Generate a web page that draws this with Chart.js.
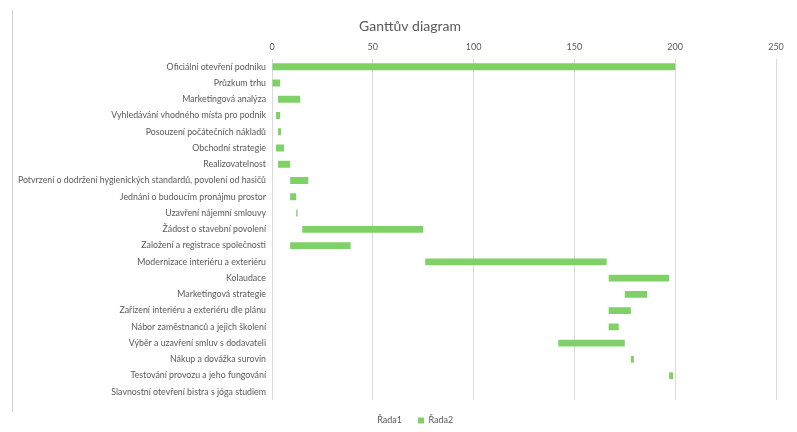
<!DOCTYPE html>
<html>
<head>
<meta charset="utf-8">
<script src="https://cdn.jsdelivr.net/npm/chart.js@4/dist/chart.umd.min.js"></script>
<style>
  html, body { margin: 0; padding: 0; background: #fff; }
  #wrap { width: 797px; height: 432px; position: relative; }
</style>
</head>
<body>
<div id="wrap"><canvas id="c" width="797" height="432"></canvas></div>
<script>
// Project tasks, top to bottom
const tasks = [
  "Oficiální otevření podniku",
  "Průzkum trhu",
  "Marketingová analýza",
  "Vyhledávání vhodného místa pro podnik",
  "Posouzení počátečních nákladů",
  "Obchodní strategie",
  "Realizovatelnost",
  "Potvrzení o dodržení hygienických standardů, povolení od hasičů",
  "Jednání o budoucím pronájmu prostor",
  "Uzavření nájemní smlouvy",
  "Žádost o stavební povolení",
  "Založení a registrace společnosti",
  "Modernizace interiéru a exteriéru",
  "Kolaudace",
  "Marketingová strategie",
  "Zařízení interiéru a exteriéru dle plánu",
  "Nábor zaměstnanců a jejich školení",
  "Výběr a uzavření smluv s dodavateli",
  "Nákup a dovážka surovin",
  "Testování provozu a jeho fungování",
  "Slavnostní otevření bistra s jóga studiem"
];

// Řada1: start day (hidden offset)
const startDays = [0, 0, 3, 2, 3, 2, 3, 9, 9, 12, 15, 9, 76, 167, 175, 167, 167, 142, 178, 197, 200];
// Řada2: duration in days (visible bar)
const durations = [200, 4, 11, 2, 1.5, 4, 6, 9, 3, 0.7, 60, 30, 90, 30, 11, 11, 5, 33, 1.5, 2, 0];

const xTicks = [0, 50, 100, 150, 200, 250];

const textGray = '#595959';
const barGreen = '#7fd167';
const gridGray = '#d9d9d9';

// thin frame line on the left edge of the chart area
const frameLine = {
  id: 'frameLine',
  beforeDraw(chart) {
    const ctx = chart.ctx;
    ctx.save();
    ctx.strokeStyle = '#d0d0d0';
    ctx.lineWidth = 1;
    ctx.beginPath();
    ctx.moveTo(12.5, 10);
    ctx.lineTo(12.5, 412);
    ctx.stroke();
    ctx.restore();
  }
};

// let the long task names use the space left of the category axis box
const widenLabelArea = {
  id: 'widenLabelArea',
  afterLayout(chart) {
    chart.scales.y.left = 0;
  }
};

new Chart(document.getElementById('c'), {
  type: 'bar',
  data: {
    labels: tasks,
    datasets: [
      {
        label: 'Řada1',
        data: startDays,
        backgroundColor: 'rgba(0,0,0,0)',
        borderWidth: 0,
        barPercentage: 0.42,
        categoryPercentage: 1.0
      },
      {
        label: 'Řada2',
        data: durations,
        backgroundColor: barGreen,
        borderWidth: 0,
        barPercentage: 0.42,
        categoryPercentage: 1.0
      }
    ]
  },
  plugins: [frameLine, widenLabelArea],
  options: {
    indexAxis: 'y',
    responsive: false,
    animation: false,
    devicePixelRatio: 1,
    layout: { padding: { left: 44, right: 21, top: 6, bottom: -3 } },
    plugins: {
      title: {
        display: true,
        text: 'Ganttův diagram',
        color: textGray,
        font: { family: 'Lato', size: 14, weight: 'normal' },
        padding: { top: 12, bottom: 1 }
      },
      legend: {
        position: 'bottom',
        labels: {
          color: textGray,
          font: { family: 'Lato', size: 9 },
          boxWidth: 6,
          boxHeight: 6,
          padding: 16
        }
      },
      tooltip: { enabled: false }
    },
    scales: {
      x: {
        position: 'top',
        stacked: true,
        min: 0,
        max: 250,
        afterBuildTicks(axis) {
          axis.ticks = xTicks.map(v => ({ value: v }));
        },
        ticks: {
          color: textGray,
          font: { family: 'Lato', size: 9 },
          padding: 6
        },
        grid: { color: gridGray, drawTicks: false },
        border: { display: false }
      },
      y: {
        stacked: true,
        afterFit(axis) { axis.width = 228; },
        ticks: {
          color: textGray,
          font: { family: 'Lato', size: 8.8 },
          padding: 6,
          autoSkip: false
        },
        grid: { display: false, drawTicks: false },
        border: { display: false }
      }
    }
  }
});
</script>
</body>
</html>
